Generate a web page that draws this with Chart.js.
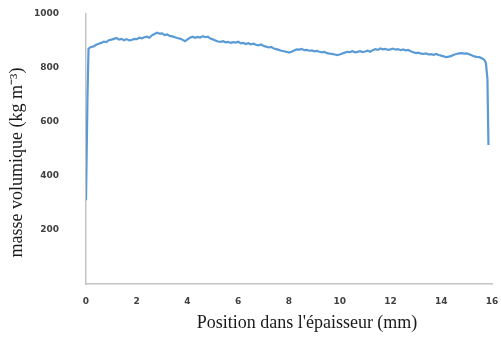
<!DOCTYPE html>
<html>
<head>
<meta charset="utf-8">
<script src="https://cdn.jsdelivr.net/npm/chart.js@4"></script>
<style>
  html, body { margin: 0; padding: 0; background: #fff; }
  #wrap { width: 501px; height: 337px; }
</style>
</head>
<body>
<div id="wrap"><canvas id="densityChart" width="501" height="337"></canvas></div>
<script>
// position through the thickness (mm) and density profile (kg m-3)
const positions = [
    0.00, 0.06, 0.10, 0.20, 0.30, 0.40, 0.50, 0.60, 0.70, 0.80, 0.90,
    1.00, 1.10, 1.20, 1.30, 1.40, 1.50, 1.60, 1.70, 1.80, 1.90,
    2.00, 2.10, 2.20, 2.30, 2.40, 2.50, 2.60, 2.70, 2.80, 2.90,
    3.00, 3.10, 3.20, 3.30, 3.40, 3.50, 3.60, 3.70, 3.80, 3.90,
    4.00, 4.10, 4.20, 4.30, 4.40, 4.50, 4.60, 4.70, 4.80, 4.90,
    5.00, 5.10, 5.20, 5.30, 5.40, 5.50, 5.60, 5.70, 5.80, 5.90,
    6.00, 6.10, 6.20, 6.30, 6.40, 6.50, 6.60, 6.70, 6.80, 6.90,
    7.00, 7.10, 7.20, 7.30, 7.40, 7.50, 7.60, 7.70, 7.80, 7.90,
    8.00, 8.10, 8.20, 8.30, 8.40, 8.50, 8.60, 8.70, 8.80, 8.90,
    9.00, 9.10, 9.20, 9.30, 9.40, 9.50, 9.60, 9.70, 9.80, 9.90,
    10.00, 10.10, 10.20, 10.30, 10.40, 10.50, 10.60, 10.70, 10.80, 10.90,
    11.00, 11.10, 11.20, 11.30, 11.40, 11.50, 11.60, 11.70, 11.80, 11.90,
    12.00, 12.10, 12.20, 12.30, 12.40, 12.50, 12.60, 12.70, 12.80, 12.90,
    13.00, 13.10, 13.20, 13.30, 13.40, 13.50, 13.60, 13.70, 13.80, 13.90,
    14.00, 14.10, 14.20, 14.30, 14.40, 14.50, 14.60, 14.70, 14.80, 14.90,
    15.00, 15.10, 15.20, 15.30, 15.40, 15.50, 15.60, 15.70, 15.76, 15.82, 15.86
];
const densities = [
    310, 700, 872, 878, 880, 886, 890, 893, 898, 896, 903,
    905, 908, 911, 905, 908, 903, 907, 902, 904, 908,
    907, 912, 910, 914, 916, 912, 921, 926, 931, 927,
    928, 922, 924, 919, 917, 914, 911, 909, 905, 899,
    906, 912, 916, 912, 915, 913, 918, 914, 916, 909,
    906, 902, 898, 897, 899, 895, 897, 893, 896, 894,
    897, 891, 893, 889, 892, 888, 890, 886, 884, 887,
    882, 879, 876, 878, 872, 870, 867, 864, 862, 860,
    857, 860, 865, 869, 868, 871, 866, 867, 864, 865,
    862, 863, 860, 858, 860, 855, 853, 852, 850, 848,
    850, 854, 857, 860, 859, 862, 858, 860, 862, 859,
    861, 864, 860, 866, 870, 867, 872, 869, 871, 867,
    869, 872, 868, 870, 866, 869, 865, 867, 862, 858,
    855, 857, 853, 852, 854, 850, 851, 849, 852, 848,
    846, 843, 840, 842, 845, 849, 852, 854, 855, 853,
    854, 851, 847, 843, 841, 840, 836, 830, 818, 760, 515
];
const xTicks = [0, 2, 4, 6, 8, 10, 12, 14, 16];
const yTicks = [0, 200, 400, 600, 800, 1000];

const points = positions.map((p, i) => ({ x: p, y: densities[i] }));

const tickFont = { family: 'DejaVu Sans', size: 9, weight: 'bold' };
const titleFont = { family: 'Liberation Serif', size: 18 };

const ctx = document.getElementById('densityChart').getContext('2d');
const densityChart = new Chart(ctx, {
    type: 'line',
    data: {
        datasets: [{
            label: 'masse volumique',
            data: points,
            borderColor: '#5B9BD5',
            borderWidth: 2.2,
            pointRadius: 0,
            tension: 0,
            fill: false
        }]
    },
    options: {
        responsive: false,
        animation: false,
        layout: { padding: { top: 14, right: 9, left: 0, bottom: 0 } },
        plugins: {
            legend: { display: false },
            tooltip: { enabled: false }
        },
        scales: {
            x: {
                type: 'linear',
                min: 0,
                max: 16,
                afterBuildTicks: (axis) => { axis.ticks = xTicks.map(v => ({ value: v })); },
                afterFit: (axis) => {
                    axis.height = 53;
                    axis.paddingLeft = 0;
                    axis.paddingRight = 0;
                },
                grid: { display: false, drawTicks: false },
                border: { display: true, color: '#c4c4c4', width: 1.5 },
                ticks: { font: tickFont, color: '#404040', padding: 12, maxRotation: 0 },
                title: {
                    display: true,
                    // leading spaces push the title right, as in the original
                    text: "        Position dans l'épaisseur (mm)",
                    font: titleFont,
                    color: '#1a1a1a',
                    padding: { top: 0, bottom: 3 }
                }
            },
            y: {
                min: 0,
                max: 1000,
                afterBuildTicks: (axis) => { axis.ticks = yTicks.map(v => ({ value: v })); },
                afterFit: (axis) => {
                    axis.width = 86;
                    axis.paddingTop = 0;
                    axis.paddingBottom = 0;
                },
                grid: { display: false, drawTicks: false },
                border: { display: true, color: '#c4c4c4', width: 1.5 },
                ticks: {
                    font: tickFont,
                    color: '#404040',
                    padding: 27,
                    callback: (v) => (v === 0 ? '' : v)
                },
                title: {
                    display: true,
                    text: 'masse volumique (kg m⁻³)      ',
                    font: titleFont,
                    color: '#1a1a1a',
                    padding: { top: 6, bottom: 0 }
                }
            }
        }
    }
});
</script>
</body>
</html>
